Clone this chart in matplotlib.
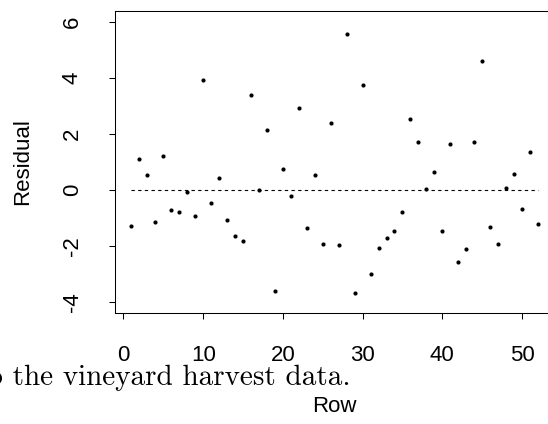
import numpy as np
import matplotlib
matplotlib.use("Agg")
import matplotlib.pyplot as plt

plt.rcParams['font.family'] = ['Liberation Sans', 'DejaVu Sans']
plt.rcParams['axes.unicode_minus'] = False

# residuals, one per row
rows = np.arange(1, 53)
residuals = [-1.28, 1.11, 0.55, -1.13, 1.22, -0.70, -0.79, -0.07, -0.92, 3.94,
             -0.45, 0.44, -1.08, -1.63, -1.82, 3.38, -0.01, 2.14, -3.63, 0.76,
             -0.21, 2.93, -1.36, 0.52, -1.95, 2.39, -1.97, 5.56, -3.67, 3.74,
             -3.00, -2.08, -1.72, -1.48, -0.79, 2.52, 1.72, 0.04, 0.64, -1.47,
             1.65, -2.57, -2.11, 1.72, 4.62, -1.33, -1.94, 0.06, 0.57, -0.67,
             1.37, -1.22]
xticks = [0, 10, 20, 30, 40, 50]
yticks = [-4, -2, 0, 2, 4, 6]

W, H = 548, 424
fig = plt.figure(figsize=(W / 100, H / 100), dpi=100)
ax = fig.add_axes([115.2 / W, 1 - 313 / H, 439 / W, 302 / H])

ax.plot(rows, residuals, 'o', color='black', markersize=3, markeredgewidth=0)
ax.plot([rows[0], rows[-1]], [0, 0], color='black', lw=0.8, dashes=(3, 3))

ax.set_xlim(-1.04, 54.04)
ax.set_ylim(-4.4, 6.4)
ax.set_xticks(xticks)
ax.set_yticks(yticks)
ax.tick_params(direction='out', length=4.3, width=0.75, labelsize=16, pad=19)
for lab in ax.get_yticklabels():
    lab.set_rotation(90)
    lab.set_va('center')
for sp in ax.spines.values():
    sp.set_linewidth(0.75)

fig.text(22.5 / W, 1 - 162 / H, "Residual", rotation=90, fontsize=16,
         ha='center', va='center')
fig.text(334.7 / W, 1 - 407 / H, "Row", fontsize=16, ha='center', va='center')
fig.text(350 / W, 1 - 385 / H, "to the vineyard harvest data.", family='cmr10',
         fontsize=21, ha='right', va='baseline')

fig.savefig("out.png", dpi=100)
